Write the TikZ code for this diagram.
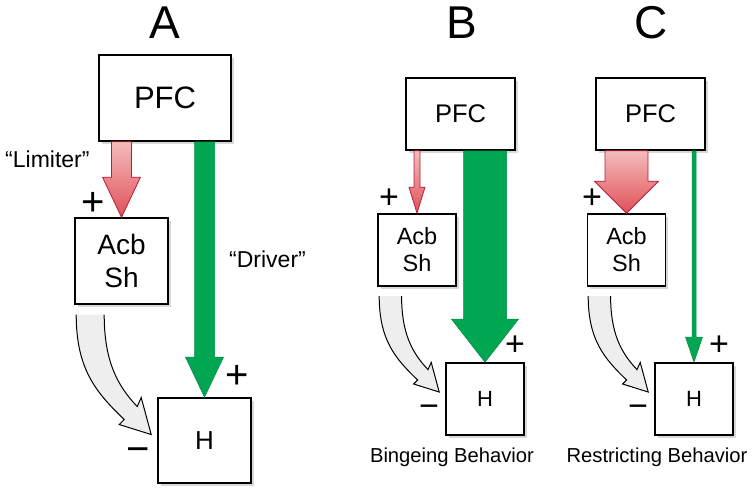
\documentclass[tikz,border=0pt]{standalone}
\usepackage{fontspec}
\setmainfont{Liberation Sans}
\usetikzlibrary{calc,shadows}

\definecolor{drivegreen}{RGB}{0,166,81}
\definecolor{drivedark}{RGB}{0,140,68}
\definecolor{limittop}{RGB}{244,188,188}
\definecolor{limitbot}{RGB}{224,80,88}
\definecolor{limitedge}{RGB}{180,30,58}
\definecolor{inhibgray}{RGB}{238,238,238}

% straight fat arrow pointing down from #2 to #3
\newcommand{\fatarrow}[6][]{%
  \path[#1] let \p1=#2, \p2=#3 in
    (\x2-#4/2,\y1) -- (\x2-#4/2,\y2+#6) -- (\x2-#5/2,\y2+#6) -- (\x2,\y2)
    -- (\x2+#5/2,\y2+#6) -- (\x2+#4/2,\y2+#6) -- (\x2+#4/2,\y1) -- cycle;}

\begin{document}
\begin{tikzpicture}[x=1pt, y=-1pt
    ,box/.style={draw, line width=1.6pt, fill=white
      ,drop shadow={shadow xshift=2.5pt, shadow yshift=-2.5pt, fill=black!30, opacity=.5}}
    ,pfcbig/.style={box, minimum width=132pt, minimum height=86pt, font=\fontsize{31}{31}\selectfont}
    ,pfcsmall/.style={box, minimum width=109pt, minimum height=72pt, font=\fontsize{25.5}{25.5}\selectfont}
    ,acbbig/.style={box, minimum width=93pt, minimum height=86pt, align=center, font=\fontsize{28}{33}\selectfont}
    ,acbsmall/.style={box, minimum width=78pt, minimum height=72pt, align=center, font=\fontsize{23.5}{27}\selectfont}
    ,hbig/.style={box, minimum width=93pt, minimum height=85pt, font=\fontsize{26}{26}\selectfont}
    ,hsmall/.style={box, minimum width=78pt, minimum height=72pt, font=\fontsize{22}{22}\selectfont}
    ,title/.style={anchor=base, inner sep=0, font=\fontsize{46}{46}\selectfont}
    ,signbig/.style={inner sep=0, font=\fontsize{40}{40}\selectfont}
    ,signsmall/.style={inner sep=0, font=\fontsize{34}{34}\selectfont}
    ,lab/.style={inner sep=0, font=\fontsize{23}{23}\selectfont}
    ,behav/.style={anchor=base, inner sep=0, font=\fontsize{20.2}{20.2}\selectfont}
    ,limiter/.style={top color=limittop, bottom color=limitbot, draw=limitedge, line width=.8pt}
    ,driver/.style={fill=drivegreen, draw=drivedark, line width=.5pt}
    ,inhib/.pic={
      \filldraw[fill=inhibgray, draw=black, line width=1pt]
        (-75,-120) .. controls (-75,-65) and (-55,-42) .. (-27,-15) -- (-32,-10) -- (0,0)
        -- (-10,-37) -- (-14,-28) .. controls (-35,-50) and (-47,-75) .. (-47,-120);
    }
  ]
  \useasboundingbox (0,0) rectangle (754,501);

  % panel A
  \node [title] (titleA) at (165,38) {A};
  \node [pfcbig] (pfcA) at (165,98) {PFC};
  \node [acbbig] (acbA) at (121.5,261) {Acb\\Sh};
  \node [hbig] (hA) at (204.5,440.5) {H};
  \fatarrow[limiter]{(acbA.north |- pfcA.south)}{(acbA.north)}{20pt}{38pt}{40pt}
  \fatarrow[driver]{(hA.north |- pfcA.south)}{(hA.north)}{20pt}{38pt}{40pt}
  \pic at ($(hA.west)+(-6,-6)$) {inhib};
  \node [lab, anchor=base west] (limA) at (5,167) {“Limiter”};
  \node [lab, anchor=base west] (drvA) at (229,267) {“Driver”};
  \node [signbig] (plusAcbA) at (93,204) {+};
  \node [signbig] (plusHA) at (237,377) {+};
  \node [signbig, anchor=base] (minusHA) at (138,462) {−};

  % panel B
  \node [title] (titleB) at (461.5,38) {B};
  \node [pfcsmall] (pfcB) at (460.5,114) {PFC};
  \node [acbsmall] (acbB) at (417,250) {Acb\\Sh};
  \node [hsmall] (hB) at (485,399) {H};
  \fatarrow[limiter]{(acbB.north |- pfcB.south)}{(acbB.north)}{6pt}{16pt}{26pt}
  \fatarrow[driver]{(hB.north |- pfcB.south)}{(hB.north)}{43pt}{67pt}{43pt}
  \pic [scale=.8] at ($(hB.west)+(-6,-7)$) {inhib};
  \node [signsmall] (plusAcbB) at (389,199) {+};
  \node [signsmall] (plusHB) at (515,346) {+};
  \node [signsmall, anchor=base] (minusHB) at (429,417.5) {−};
  \node [behav] (bingeB) at (452,462) {Bingeing Behavior};

  % panel C
  \node [title] (titleC) at (651,38) {C};
  \node [pfcsmall] (pfcC) at (650.5,114) {PFC};
  \node [acbsmall] (acbC) at (626.5,250) {Acb\\Sh};
  \node [hsmall] (hC) at (694,399) {H};
  \fatarrow[limiter]{(acbC.north |- pfcC.south)}{(acbC.north)}{43pt}{64pt}{32pt}
  \fatarrow[driver]{(hC.north |- pfcC.south)}{(hC.north)}{4pt}{17pt}{25pt}
  \pic [scale=.8] at ($(hC.west)+(-6,-7)$) {inhib};
  \node [signsmall] (plusAcbC) at (592,199) {+};
  \node [signsmall] (plusHC) at (719,346) {+};
  \node [signsmall, anchor=base] (minusHC) at (638,417.5) {−};
  \node [behav] (restrC) at (657,462) {Restricting Behavior};
\end{tikzpicture}
\end{document}
